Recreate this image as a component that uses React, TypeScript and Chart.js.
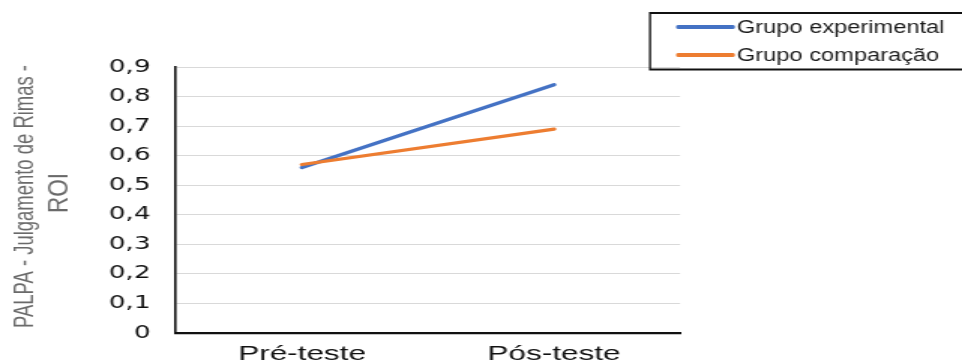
import React, { useEffect, useRef } from "react";
import { Chart, registerables } from "chart.js";

Chart.register(...registerables);

// Data
const categories = ["Pré-teste", "Pós-teste"];
const grupoExperimental = [0.56, 0.84];
const grupoComparacao = [0.57, 0.69];
const yTickLabels = ["0", "0,1", "0,2", "0,3", "0,4", "0,5", "0,6", "0,7", "0,8", "0,9"];
const seriesNames = ["Grupo experimental", "Grupo comparação"];
const yTitleLines = ["PALPA - Julgamento de Rimas -", "ROI"];

// The chart is laid out on a narrower canvas and widened horizontally.
const OUT_W = 962;
const OUT_H = 363;
const IN_W = 641;
const SX = OUT_W / IN_W;

const overlayPlugin = {
  id: "overlay",
  afterDraw(chart: any) {
    const ctx: CanvasRenderingContext2D = chart.ctx;
    const area = chart.chartArea;
    ctx.save();
    // work in output pixels
    ctx.scale(1 / SX, 1);

    // y-axis title: two rotated, condensed lines
    const cy = (area.top + area.bottom) / 2;
    ctx.fillStyle = "#6a6a6a";
    ctx.font = "27px 'Liberation Sans', Arial, sans-serif";
    ctx.textAlign = "center";
    ctx.textBaseline = "alphabetic";
    const baselines = [32.5, 68];
    const centers = [cy - 3.5, cy - 7];
    const lengths = [263, 40];
    yTitleLines.forEach((line, i) => {
      const w = ctx.measureText(line).width;
      ctx.save();
      ctx.translate(baselines[i], centers[i]);
      ctx.rotate(-Math.PI / 2);
      ctx.scale(lengths[i] / w, 1);
      ctx.fillText(line, 0, 0);
      ctx.restore();
    });

    // legend box
    ctx.strokeStyle = "#111111";
    ctx.lineWidth = 2;
    ctx.strokeRect(650, 13, 330, 56.5);

    const rows = [27, 55];
    chart.data.datasets.forEach((ds: any, i: number) => {
      const y = rows[i];
      ctx.strokeStyle = ds.borderColor;
      ctx.lineWidth = 4;
      ctx.lineCap = "round";
      ctx.beginPath();
      ctx.moveTo(678, y);
      ctx.lineTo(733, y);
      ctx.stroke();

      ctx.save();
      ctx.translate(737, y);
      ctx.scale(1.35, 1);
      ctx.fillStyle = "#1a1a1a";
      ctx.font = "17.5px 'Liberation Sans', Arial, sans-serif";
      ctx.textAlign = "left";
      ctx.textBaseline = "middle";
      ctx.fillText(ds.label, 0, 1);
      ctx.restore();
    });

    ctx.restore();
  },
};

export default function App() {
  const canvasRef = useRef<HTMLCanvasElement | null>(null);

  useEffect(() => {
    document.body.style.margin = "0";
    const canvas = canvasRef.current;
    if (!canvas) return;

    const chart = new Chart(canvas, {
      type: "line",
      data: {
        labels: categories,
        datasets: [
          {
            label: seriesNames[0],
            data: grupoExperimental,
            borderColor: "#4472C4",
            backgroundColor: "#4472C4",
            borderWidth: 3.2,
            borderCapStyle: "round",
            pointRadius: 0,
            tension: 0,
            order: 1,
          },
          {
            label: seriesNames[1],
            data: grupoComparacao,
            borderColor: "#ED7D31",
            backgroundColor: "#ED7D31",
            borderWidth: 3.2,
            borderCapStyle: "round",
            pointRadius: 0,
            tension: 0,
            order: 0,
          },
        ],
      },
      options: {
        responsive: false,
        animation: false,
        events: [],
        devicePixelRatio: 1,
        layout: {
          padding: { top: 67, right: IN_W - 680 / SX, bottom: 0, left: 0 },
        },
        plugins: {
          legend: { display: false },
          tooltip: { enabled: false },
          title: { display: false },
        },
        scales: {
          x: {
            type: "category",
            offset: true,
            grid: { display: false, drawTicks: false },
            border: { display: true, color: "#111111", width: 2.2 },
            ticks: {
              color: "#111111",
              padding: 9,
              font: { family: "'Liberation Sans', Arial, sans-serif", size: 21 },
              maxRotation: 0,
            },
            afterFit: (scale: any) => {
              scale.height = 30;
            },
          },
          y: {
            min: 0,
            max: 0.9,
            ticks: {
              stepSize: 0.1,
              padding: 17,
              color: "#111111",
              font: { family: "'DejaVu Sans', sans-serif", size: 17.5 },
              callback: (_v: any, i: number) => yTickLabels[i],
            },
            grid: { color: "#d9d9d9", lineWidth: 1, drawTicks: false },
            border: { display: true, color: "#111111", width: 1.6 },
            afterFit: (scale: any) => {
              scale.width = 176 / SX;
            },
          },
        },
      },
      plugins: [overlayPlugin],
    } as any);

    return () => {
      chart.destroy();
    };
  }, []);

  return (
    <div style={{ width: OUT_W, height: OUT_H, overflow: "hidden", position: "relative", background: "#ffffff" }}>
      <div style={{ width: IN_W, height: OUT_H, transform: `scaleX(${SX})`, transformOrigin: "0 0" }}>
        <canvas ref={canvasRef} width={IN_W} height={OUT_H} style={{ width: IN_W, height: OUT_H, display: "block" }} />
      </div>
    </div>
  );
}
